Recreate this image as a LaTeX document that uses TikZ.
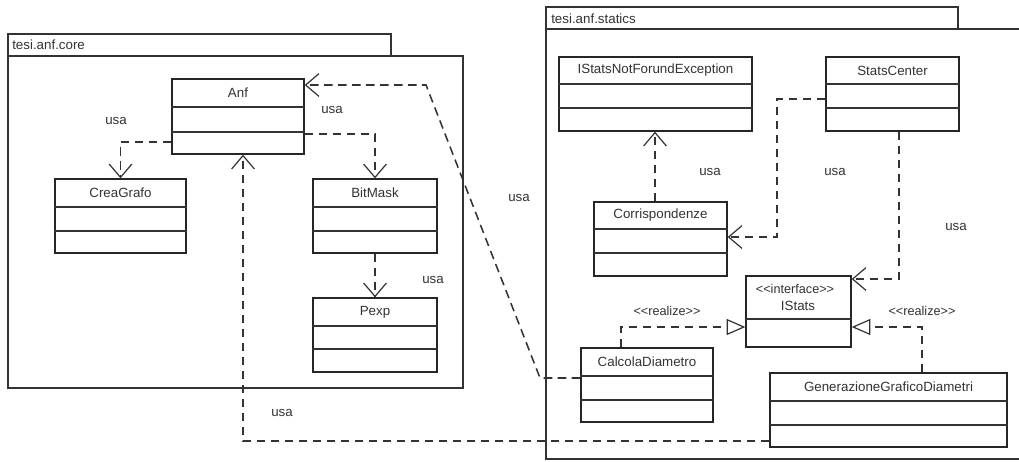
\documentclass[tikz,border=0pt]{standalone}
\usepackage{fontspec}
\setmainfont{Liberation Sans}
\usetikzlibrary{arrows.meta,fit,calc}

% double angle brackets kept apart so the TeX mapping does not turn them into guillemets
\newcommand\ltlt{<\kern0pt<}
\newcommand\gtgt{>\kern0pt>}

% UML class box: name, x1, y1, x2, y2, first separator y, second separator y, title
\newcommand\umlcls[8]{%
  \node[box, fit={(#2,#3) (#4,#5)}] (#1) {};
  \node[lbl] (#1-title) at ({(#2+#4)/2},{(#3+#6)/2}) {#8};
  \draw[sep] (#1.west |- 0,#6) -- (#1.east |- 0,#6);
  \draw[sep] (#1.west |- 0,#7) -- (#1.east |- 0,#7);
}

\begin{document}
\begin{tikzpicture}[x=0.75pt,y=-0.75pt,
  box/.style={draw=black!85, line width=1pt, inner sep=0pt, fill=white},
  sep/.style={draw=black!80, line width=0.9pt},
  pkg/.style={draw=black!80, line width=0.9pt, inner sep=0pt},
  lbl/.style={font=\fontsize{10}{12}\selectfont, text=black!80, inner sep=0pt},
  stereo/.style={lbl, font=\fontsize{9.5}{11}\selectfont},
  dep/.style={draw=black!80, line width=1.15pt, dash pattern=on 6.5pt off 4pt,
    -{Straight Barb[length=10pt,width=17pt,line width=0.9pt]}},
  real/.style={draw=black!80, line width=1.15pt, dash pattern=on 6.5pt off 4pt,
    -{Triangle[open,length=14pt,width=12pt,fill=white,line width=0.9pt]}},
]
\useasboundingbox (0,0) rectangle (1019,461);
\clip (0,0) rectangle (1019,461);
\fill[white] (0,0) rectangle (1019,461);

% packages
\node[pkg, fit={(8,34) (391,56)}] (coretab) {};
\node[pkg, fit={(8,56) (463,388)}] (corebody) {};
\node[lbl, anchor=west] (corename) at (12,45) {tesi.anf.core};

\node[pkg, fit={(546,7) (958,29)}] (statstab) {};
\node[pkg, fit={(546,29) (1040,459)}] (statsbody) {};
\node[lbl, anchor=west] (statsname) at (551,19) {tesi.anf.statics};

% classes of tesi.anf.core
\umlcls{anf}{172}{79}{304}{154}{107}{132}{Anf}
\umlcls{crea}{55}{179}{186}{253}{207}{231}{CreaGrafo}
\umlcls{bitmask}{313}{179}{437}{253}{207}{231}{BitMask}
\umlcls{pexp}{313}{298}{437}{372}{326}{349}{Pexp}

% classes of tesi.anf.statics
\umlcls{notfound}{559}{57}{752}{131}{84}{108}{IStatsNotForundException}
\umlcls{center}{826}{57}{959}{131}{84}{108}{StatsCenter}
\umlcls{corr}{594}{202}{727}{276}{229}{253}{Corrispondenze}
\umlcls{calcola}{581}{348}{713}{422}{376}{400}{CalcolaDiametro}
\umlcls{gen}{770}{373}{1007}{447}{401}{425}{GenerazioneGraficoDiametri}

% interface IStats
\node[box, fit={(746,276) (851,347)}] (istats) {};
\node[stereo] (istats-st) at (795,289) {\ltlt interface\gtgt};
\node[lbl] (istats-title) at (798,306) {IStats};
\draw[sep] (istats.west |- 0,319) -- (istats.east |- 0,319);

% dependencies
\draw[dep] (anf.west |- 0,142) -| (crea.north);
\draw[dep] (anf.east |- 0,134) -| (bitmask.north);
\draw[dep] (bitmask.south) -- (pexp.north);
\draw[dep] (calcola.west |- 0,378) -- (540,378) -- (426,85) -- (anf.east |- 0,85);
\draw[dep] (gen.west |- 0,441) -| (anf.south -| 243,0);
\draw[dep] (corr.north -| 655,0) -- (notfound.south -| 655,0);
\draw[dep] (center.west |- 0,99) -| (777,237) -- (corr.east |- 0,237);
\draw[dep] (center.south -| 899,0) |- (istats.east |- 0,279);

% realizations
\draw[real] (calcola.north -| 621,0) |- (istats.west |- 0,327);
\draw[real] (gen.north -| 922,0) |- (istats.east |- 0,327);

% connector labels
\node[lbl] (u1) at (116,121) {usa};
\node[lbl] (u2) at (332,110) {usa};
\node[lbl] (u3) at (433,280) {usa};
\node[lbl] (u4) at (282,413) {usa};
\node[lbl] (u5) at (519,198) {usa};
\node[lbl] (u6) at (710,172) {usa};
\node[lbl] (u7) at (835,172) {usa};
\node[lbl] (u8) at (956,227) {usa};
\node[stereo] (r1) at (667,311) {\ltlt realize\gtgt};
\node[stereo] (r2) at (922,311) {\ltlt realize\gtgt};
\end{tikzpicture}
\end{document}
